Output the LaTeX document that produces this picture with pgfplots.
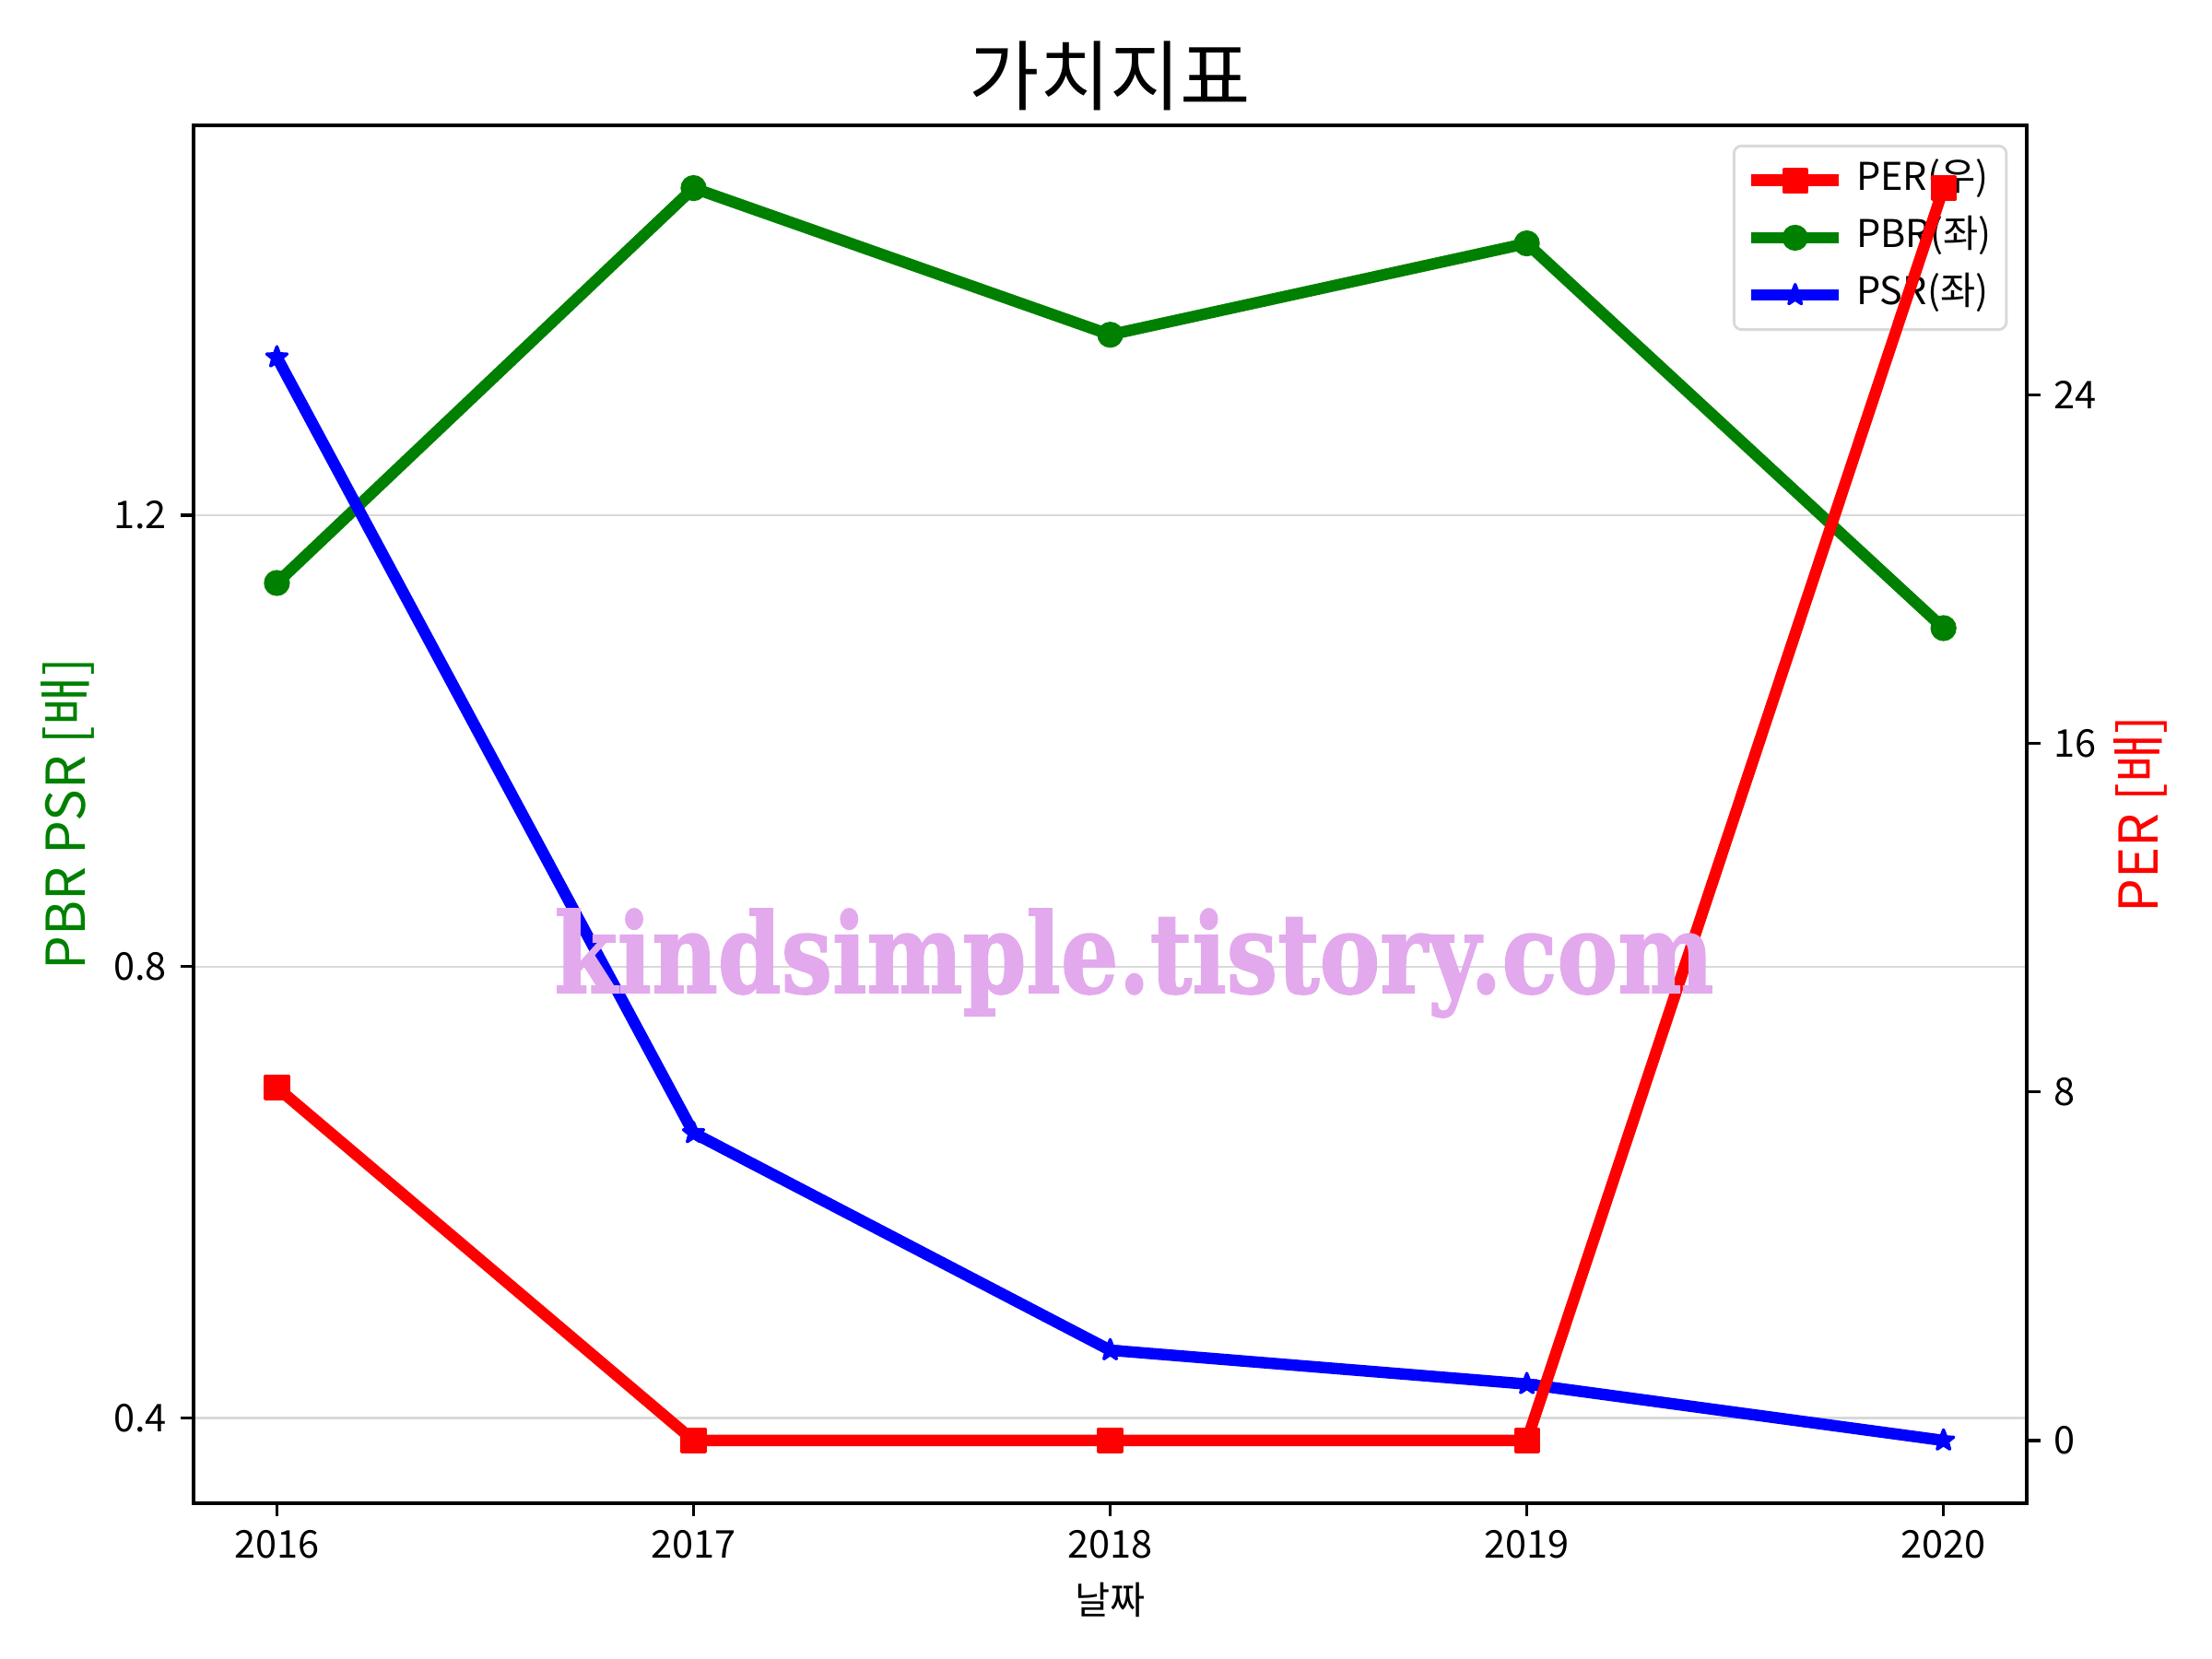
\documentclass[border=0pt]{standalone}
\usepackage{fontspec}
\setmainfont{Noto Sans CJK KR}
\newfontfamily\wmfont{DejaVu Serif}[BoldFeatures={FakeBold=1.5}]
\usepackage{pgfplots}
\pgfplotsset{compat=1.18}
\definecolor{mplgreen}{RGB}{0,128,0}
\definecolor{wm}{RGB}{227,169,237}
\pgfdeclareplotmark{fstar}{%
 \pgfpathmoveto{\pgfpointpolar{90}{\pgfplotmarksize}}%
 \pgfpathlineto{\pgfpointpolar{126}{0.42\pgfplotmarksize}}%
 \pgfpathlineto{\pgfpointpolar{162}{\pgfplotmarksize}}%
 \pgfpathlineto{\pgfpointpolar{198}{0.42\pgfplotmarksize}}%
 \pgfpathlineto{\pgfpointpolar{234}{\pgfplotmarksize}}%
 \pgfpathlineto{\pgfpointpolar{270}{0.42\pgfplotmarksize}}%
 \pgfpathlineto{\pgfpointpolar{306}{\pgfplotmarksize}}%
 \pgfpathlineto{\pgfpointpolar{342}{0.42\pgfplotmarksize}}%
 \pgfpathlineto{\pgfpointpolar{18}{\pgfplotmarksize}}%
 \pgfpathlineto{\pgfpointpolar{54}{0.42\pgfplotmarksize}}%
 \pgfpathclose
 \pgfusepathqfillstroke}
\pgfplotsset{
 common/.style={
  scale only axis, width=479.2pt, height=360.1pt,
  xmin=2015.8, xmax=2020.2,
  tick align=outside, major tick length=3.5pt,
  every tick/.style={black, line width=0.8pt},
  axis line style={line width=0.8pt},
  /pgf/number format/assume math mode=true,
  /pgf/number format/1000 sep={},
  tick label style={font=\fontsize{10}{12}\selectfont},
 },
 leg/.style={line width=3pt, line join=round, sharp corners, mark options={line width=0.8pt, solid}},
}
\begin{document}
\begin{tikzpicture}
\useasboundingbox (-50.6pt,-40.7pt) rectangle (527.6pt,392.9pt);
\begin{axis}[common,
 ymin=0.3245, ymax=1.5455,
 xtick={2016,2017,2018,2019,2020}, ytick={0.4,0.8,1.2},
 xtick pos=bottom, ytick pos=left,
 ymajorgrids, grid style={gray!30, line width=0.6pt},
 title={가치지표},
 title style={at={(0.5,1)}, anchor=base, yshift=-0.5pt, font=\fontsize{20}{24}\selectfont},
 xlabel={날짜},
 every axis x label/.style={at={(axis description cs:0.5,-0.070)}, anchor=center, font=\fontsize{10}{12}\selectfont},
 ylabel={PBR PSR [배]},
 every axis y label/.style={at={(axis description cs:-0.0689,0.5)}, rotate=90, anchor=center, font=\fontsize{14}{16}\selectfont, text=mplgreen},
 legend image code/.code={\draw[mark repeat=2,mark phase=2,#1] plot coordinates {(0pt,0pt) (11.5pt,0pt) (23pt,0pt)};},
 legend cell align=left,
 legend style={at={(1,1)}, anchor=north east, xshift=-5pt, yshift=-5pt,
   draw=gray!30, line width=0.7pt, rounded corners=2pt, fill=white,
   font=\fontsize{10}{12}\selectfont, row sep=3pt, inner xsep=3pt, inner ysep=3pt,
   /tikz/every odd column/.append style={column sep=2pt},
   nodes={inner sep=1pt, text height=7.5pt, text depth=2.5pt}},
]
\addlegendimage{leg, red, mark=square*, mark size=3pt}
\addlegendentry{PER(우)}
\addplot[leg, mplgreen, mark=*, mark size=3pt] coordinates {
 (2016,1.14) (2017,1.49) (2018,1.36) (2019,1.441) (2020,1.10)};
\addlegendentry{PBR(좌)}
\addplot[leg, blue, mark=fstar, mark size=2.8pt] coordinates {
 (2016,1.34) (2017,0.6525) (2018,0.46) (2019,0.43) (2020,0.38)};
\addlegendentry{PSR(좌)}
\end{axis}
\begin{axis}[common,
 ymin=-1.437, ymax=30.177,
 axis x line=none, axis y line*=right,
 ytick={0,8,16,24},
 ylabel={PER [배]},
 every axis y label/.style={at={(axis description cs:1.062,0.5)}, rotate=90, anchor=center, font=\fontsize{14}{16}\selectfont, text=red},
]
\addplot[leg, red, mark=square*, mark size=3pt] coordinates {
 (2016,8.1) (2017,0) (2018,0) (2019,0) (2020,28.74)};
\node at (rel axis cs:0.513,0.392) {\color{wm}\resizebox{303pt}{22pt}{\wmfont\bfseries kindsimple.tistory.com}};
\end{axis}
\end{tikzpicture}
\end{document}
